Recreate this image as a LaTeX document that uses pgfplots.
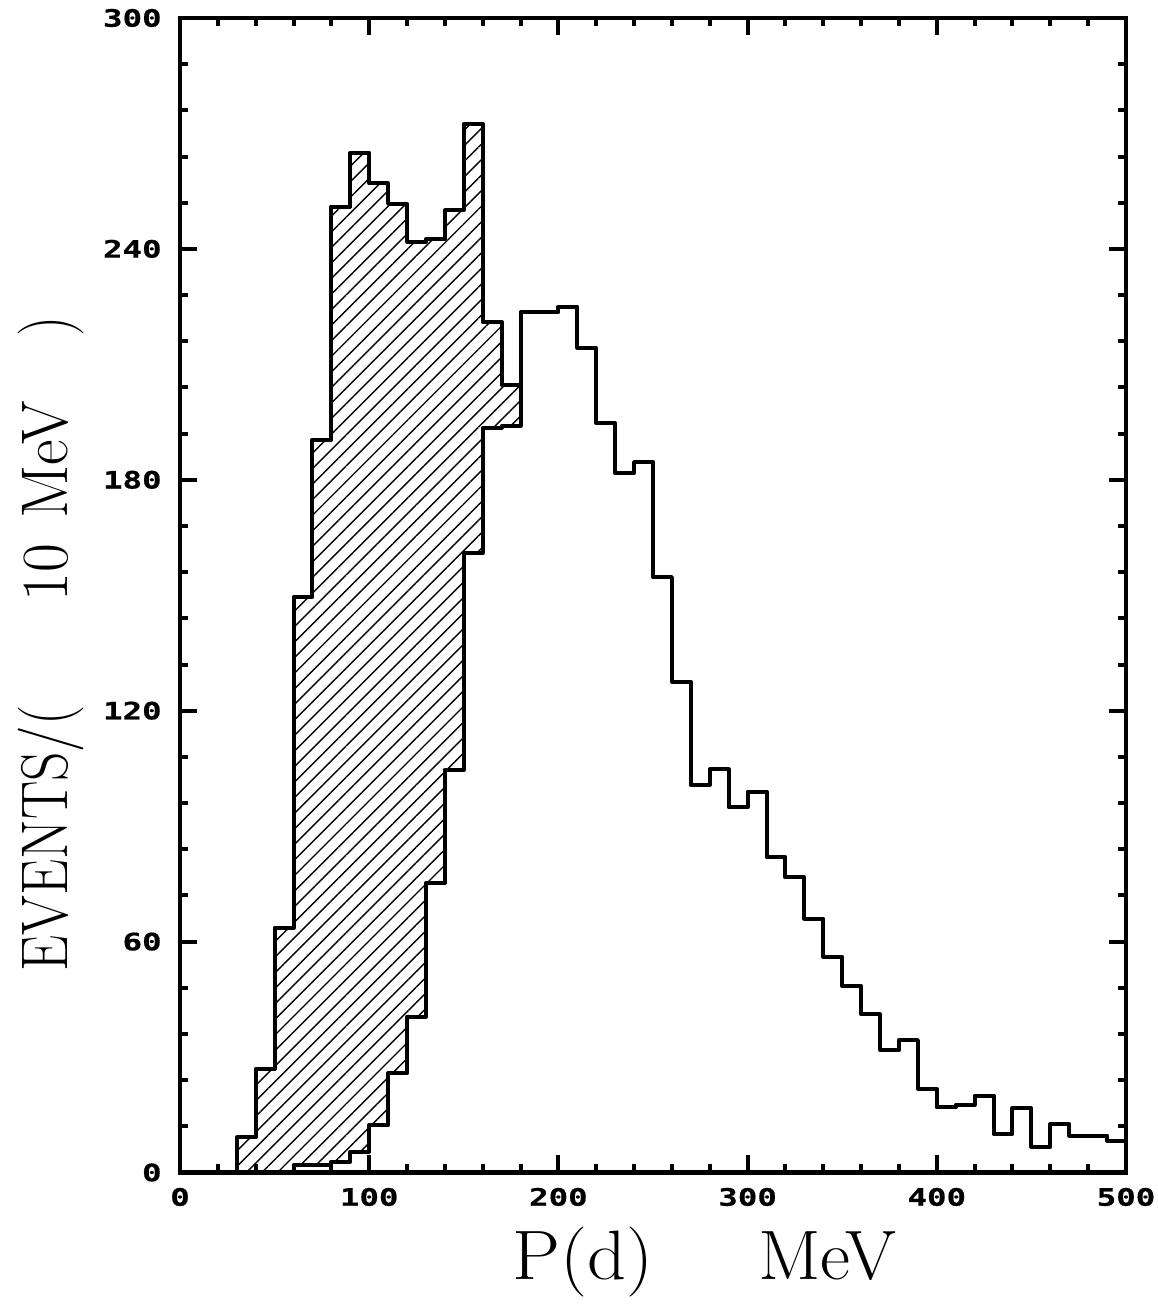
\documentclass[border=0pt]{standalone}
\usepackage{fontspec}
\usepackage{pgfplots}
\pgfplotsset{compat=1.18}
\usetikzlibrary{patterns.meta}
\newfontfamily\tickfont[FakeStretch=1.35,FakeBold=0.6]{DejaVu Sans Mono}

\begin{document}
\begin{tikzpicture}
\begin{axis}[
  name=ax,
  scale only axis,
  width=473pt, height=577.25pt,
  xmin=0, xmax=500, ymin=0, ymax=300,
  axis on top,
  clip=false,
  xtick={0,100,200,300,400,500},
  xticklabels={0,100,200,300,400,500},
  ytick={0,60,120,180,240,300},
  yticklabels={0,60,120,180,240,300},
  minor x tick num=4,
  minor y tick num=4,
  tick align=inside,
  major tick length=8.5pt,
  minor tick length=4pt,
  every tick/.style={black, line width=2pt},
  axis line style={line width=2.25pt},
  xticklabel style={font={\tickfont\bfseries\fontsize{12}{14}\selectfont}, inner sep=0pt, anchor=north, yshift=-7.5pt},
  yticklabel style={font={\tickfont\bfseries\fontsize{12}{14}\selectfont}, inner sep=0pt, anchor=east, xshift=-9pt},
]
% hatched histogram (fill)
\addplot[const plot, draw=none, pattern={Lines[angle=45,distance=5.5pt,line width=0.7pt]}]
coordinates {(30,9.1) (40,26.9) (50,63.6) (60,149.5) (70,190.4) (80,251) (90,265) (100,257) (110,251.7) (120,241.9) (130,242.5) (140,250) (150,272.5) (160,221) (170,204.6) (180,204.6)} \closedcycle;
% open histogram (white fill)
\addplot[const plot, draw=none, fill=white]
coordinates {(60,1.9) (70,1.9) (80,2.8) (90,5.4) (100,12.3) (110,25.8) (120,40.5) (130,75.2) (140,104.6) (150,161) (160,193.5) (170,194) (180,223.5) (190,223.5) (200,225) (210,214.3) (220,194.7) (230,181.7) (240,184.6) (250,154.7) (260,127.5) (270,100.7) (280,104.8) (290,94.9) (300,99) (310,82) (320,76.7) (330,66) (340,56.1) (350,48.5) (360,41.1) (370,31.8) (380,34.4) (390,21.7) (400,16.9) (410,17.6) (420,20) (430,10) (440,16.7) (450,6.7) (460,12.6) (470,9.6) (480,9.6) (490,8.3) (500,8.3)} \closedcycle;
% hatched outline
\addplot[const plot, black, line width=2pt, line join=round]
coordinates {(30,0) (30,9.1) (40,26.9) (50,63.6) (60,149.5) (70,190.4) (80,251) (90,265) (100,257) (110,251.7) (120,241.9) (130,242.5) (140,250) (150,272.5) (160,221) (170,204.6) (180,204.6)};
% open outline
\addplot[const plot, black, line width=2pt, line join=round]
coordinates {(60,0) (60,1.9) (70,1.9) (80,2.8) (90,5.4) (100,12.3) (110,25.8) (120,40.5) (130,75.2) (140,104.6) (150,161) (160,193.5) (170,194) (180,223.5) (190,223.5) (200,225) (210,214.3) (220,194.7) (230,181.7) (240,184.6) (250,154.7) (260,127.5) (270,100.7) (280,104.8) (290,94.9) (300,99) (310,82) (320,76.7) (330,66) (340,56.1) (350,48.5) (360,41.1) (370,31.8) (380,34.4) (390,21.7) (400,16.9) (410,17.6) (420,20) (430,10) (440,16.7) (450,6.7) (460,12.6) (470,9.6) (480,9.6) (490,8.3) (500,8.3)};
% y label
\node[rotate=90, anchor=base west, inner sep=0pt, font={\fontsize{33}{40}\selectfont}] at (rel axis cs:-0.1184,0.1737) {\scalebox{0.87}[1]{EVENTS/(}};
\node[rotate=90, anchor=base west, inner sep=0pt, font={\fontsize{33}{40}\selectfont}] at (rel axis cs:-0.1184,0.4944) {\scalebox{0.95}[1]{10\hspace{0.4em}MeV}};
\node[rotate=90, anchor=base west, inner sep=0pt, font={\fontsize{33}{40}\selectfont}] at (rel axis cs:-0.1184,0.7237) {\scalebox{0.87}[1]{)}};
% x label
\node[anchor=base west, inner sep=0pt, font={\fontsize{35}{40}\selectfont}] at (rel axis cs:0.351,-0.0931) {\scalebox{1.09}[1]{P(d)}};
\node[anchor=base west, inner sep=0pt, font={\fontsize{35}{40}\selectfont}] at (rel axis cs:0.611,-0.0931) {\scalebox{1.05}[1]{MeV}};
\end{axis}
\pgfresetboundingbox
\useasboundingbox ([shift={(-90pt,-68.75pt)}]ax.south west) rectangle ([shift={(15.5pt,9pt)}]ax.north east);
\end{tikzpicture}
\end{document}
